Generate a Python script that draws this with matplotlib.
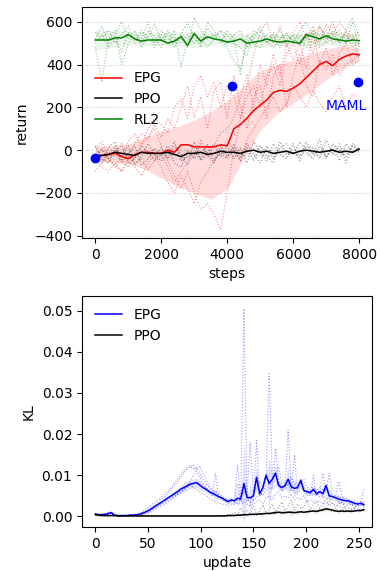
import numpy as np
import matplotlib.pyplot as plt

plt.rcParams['font.size'] = 10

# ---------- top panel: return vs steps ----------
steps = np.arange(0, 8001, 200)
band_steps = np.arange(0, 8001, 500)

epg_mean = [-30, -25, -20, -15, -30, -40, -20, -10, -10, -15,
            -15, 0, -10, 25, 25, 15, 15, 15, 15, 25,
            20, 100, 120, 150, 185, 210, 235, 270, 280, 275,
            290, 310, 340, 370, 400, 415, 395, 425, 440, 450,
            445]
ppo_mean = [-25, -25, -20, -10, -15, -20, -25, -10, -15, -15,
            -15, -10, -20, -30, -15, -15, -10, -20, -15, -5,
            -10, -10, -15, -5, 0, -10, -5, -15, -10, -5,
            -15, -5, 0, -5, -10, -5, 0, -10, -5, -10,
            5]
rl2_mean = [515, 515, 515, 525, 525, 540, 520, 510, 515, 515,
            515, 500, 510, 530, 490, 545, 510, 530, 520, 515,
            505, 510, 520, 500, 505, 510, 520, 510, 505, 510,
            505, 500, 540, 530, 520, 535, 520, 515, 510, 515,
            512]

epg_lo = [-50, -60, -60, -90, -130, -170, -200, -230, -180, -40, 90, 170, 220, 270, 330, 380, 420]
epg_hi = [20, 20, 30, 60, 90, 110, 140, 180, 230, 300, 370, 400, 420, 450, 470, 490, 480]
ppo_lo = [-50, -45, -45, -40, -45, -45, -40, -40, -35, -30, -30, -30, -25, -25, -25, -25, -20]
ppo_hi = [0, 5, 10, 10, 5, 10, 10, 10, 15, 15, 15, 10, 15, 15, 10, 15, 15]
rl2_lo = [470, 480, 490, 490, 490, 490, 480, 490, 490, 480, 480, 490, 490, 490, 490, 490, 490]
rl2_hi = [560, 560, 555, 550, 545, 550, 560, 550, 545, 545, 540, 540, 545, 550, 550, 550, 545]

epg_runs = [
    [-100, -60, -20, 20, -50, -80, -30, 30, 60, 100,
     20, -50, -120, -180, -100, -200, -280, -250, -300, -370,
     -200, 0, 150, 300, 450, 550, 600, 500, 580, 480,
     550, 600, 520, 580, 500, 590, 540, 600, 560, 520,
     560],
    [-20, 0, -40, -80, -20, 40, 80, 20, 100, 150,
     120, 80, 200, 240, 150, 300, 350, 250, 320, 200,
     300, 250, 150, 250, 300, 200, 350, 400, 300, 450,
     500, 400, 550, 450, 580, 520, 600, 500, 550, 480,
     500],
    [-40, -80, -100, -60, -100, -50, -80, -120, -60, -20,
     -80, -150, -200, -120, -180, -250, -150, -100, -50, 0,
     50, 0, -50, 50, 100, 150, 200, 250, 180, 220,
     300, 250, 200, 280, 220, 180, 250, 300, 200, 260,
     250],
    [10, 40, -30, 0, -60, -20, 30, 80, 50, 120,
     60, 150, 100, 200, 300, 150, 250, 100, 280, 320,
     150, 350, 200, 100, 250, 300, 150, 350, 400, 200,
     350, 450, 300, 250, 420, 380, 450, 350, 400, 420,
     450],
    [-60, -20, -40, -70, -100, -30, -60, -40, -90, -50,
     -20, -80, -150, -100, -60, -20, 50, -30, 20, 80,
     100, 150, 250, 350, 200, 400, 300, 450, 350, 500,
     420, 500, 380, 550, 400, 480, 350, 450, 500, 400,
     420],
]
ppo_runs = [
    [-30, -60, 10, 40, -50, -20, 20, -70, -40, 10,
     -30, 20, -60, -80, 0, -40, 30, -20, -60, 20,
     -30, 10, -50, 30, -20, -60, 20, -40, 10, 30,
     -20, 40, -10, -40, 20, -30, 10, -50, 30, -10,
     10],
    [-50, 10, -40, -20, 30, -60, -40, 20, -10, -50,
     10, -40, 20, -20, -70, 40, -50, -10, 30, -30,
     20, -40, 10, -60, 40, -10, -50, 30, -20, -40,
     30, -50, 20, 10, -40, 50, -20, 30, -60, 20,
     -10],
    [20, -40, -60, 10, -30, 20, -70, -30, 30, -20,
     -50, -20, 40, -50, -30, -10, -40, 30, -50, -10,
     -40, 30, -30, 10, -50, 20, -30, -60, 40, -20,
     -10, -30, 40, -20, 50, -40, 30, 0, -30, 30,
     0],
]
rl2_runs = [
    [520, 580, 500, 540, 600, 520, 560, 480, 530, 590,
     510, 550, 480, 540, 600, 520, 500, 570, 530, 560,
     500, 540, 560, 480, 520, 580, 500, 550, 520, 540,
     510, 560, 600, 530, 580, 520, 550, 500, 560, 620,
     530],
    [480, 320, 520, 560, 400, 500, 540, 520, 600, 480,
     540, 500, 560, 390, 520, 550, 480, 600, 560, 520,
     480, 420, 380, 500, 540, 560, 510, 480, 520, 550,
     500, 540, 520, 560, 480, 510, 560, 540, 500, 600,
     480],
    [550, 520, 560, 500, 540, 580, 500, 560, 520, 500,
     560, 520, 500, 540, 480, 620, 560, 520, 540, 500,
     560, 520, 350, 540, 500, 480, 540, 520, 560, 500,
     540, 520, 480, 560, 540, 500, 530, 560, 520, 540,
     430],
    [500, 540, 480, 520, 460, 550, 520, 500, 560, 530,
     480, 560, 520, 500, 540, 500, 530, 480, 520, 560,
     540, 500, 480, 440, 560, 530, 500, 540, 480, 520,
     530, 490, 540, 500, 520, 560, 500, 520, 540, 500,
     500],
]

maml_steps = [0, 4150, 7950]
maml_return = [-35, 300, 320]

# ---------- bottom panel: KL vs update (values in 1e-3) ----------
updates = np.arange(0, 256, 3)
kl_epg_mean = [0.6, 0.4, 0.4, 0.5, 0.7, 0.9, 0.3, 0.2, 0.2, 0.2,
               0.2, 0.3, 0.3, 0.4, 0.5, 0.8, 1.1, 1.5, 2.0, 2.5,
               3.0, 3.5, 4.0, 4.5, 5.0, 5.5, 6.0, 6.6, 7.0, 7.4,
               7.8, 8.0, 8.2, 7.6, 7.0, 6.6, 6.0, 5.6, 5.2, 4.8,
               4.5, 4.0, 3.6, 4.0, 3.8, 4.4, 4.2, 8.0, 4.6, 4.5,
               5.0, 9.5, 5.5, 7.0, 10.0, 8.0, 9.0, 10.5, 7.5, 7.0,
               7.5, 9.0, 7.2, 6.8, 7.0, 8.8, 6.2, 6.0, 5.8, 6.5,
               5.5, 6.0, 5.5, 7.5, 5.0, 4.8, 4.5, 4.2, 4.0, 3.8,
               3.8, 3.5, 3.2, 3.0, 3.2, 2.8]
kl_ppo_mean = [0.4, 0.3, 0.2, 0.2, 0.2, 0.2, 0.2, 0.1, 0.1, 0.1,
               0.1, 0.1, 0.1, 0.1, 0.1, 0.1, 0.1, 0.1, 0.1, 0.1,
               0.1, 0.1, 0.1, 0.1, 0.1, 0.1, 0.1, 0.1, 0.1, 0.1,
               0.1, 0.1, 0.1, 0.1, 0.1, 0.1, 0.1, 0.1, 0.1, 0.1,
               0.1, 0.1, 0.2, 0.2, 0.2, 0.3, 0.3, 0.4, 0.4, 0.5,
               0.5, 0.5, 0.6, 0.6, 0.7, 0.7, 0.8, 0.9, 1.0, 0.9,
               0.9, 1.0, 1.0, 0.9, 1.0, 1.1, 1.0, 1.1, 1.2, 1.3,
               1.2, 1.4, 1.6, 1.8, 1.7, 1.5, 1.3, 1.2, 1.3, 1.2,
               1.3, 1.2, 1.3, 1.4, 1.4, 1.6]
kl_epg_runs = [
    [0.5, 0.3, 0.3, 0.5, 0.6, 1.0, 0.3, 0.2, 0.1, 0.2,
     0.2, 0.3, 0.4, 0.6, 0.8, 1.2, 1.8, 2.4, 3.0, 3.6,
     4.2, 4.8, 5.5, 6.2, 7.0, 8.0, 9.0, 10.0, 11.0, 11.8,
     12.3, 11.5, 12.0, 10.5, 9.0, 8.0, 7.0, 6.2, 5.5, 4.8,
     4.2, 3.8, 3.2, 3.6, 3.5, 4.0, 3.8, 50.5, 4.0, 3.5,
     3.8, 4.5, 6.0, 5.0, 6.5, 7.0, 6.5, 7.5, 8.0, 6.0,
     6.5, 21.0, 6.8, 6.0, 5.5, 6.5, 7.0, 5.0, 5.5, 5.0,
     5.5, 4.8, 5.0, 4.5, 4.2, 4.0, 3.8, 3.5, 3.2, 3.0,
     3.0, 2.8, 2.5, 2.5, 2.8, 2.5],
    [0.6, 0.5, 0.4, 0.4, 0.5, 0.6, 0.2, 0.1, 0.1, 0.2,
     0.3, 0.3, 0.2, 0.3, 0.4, 0.5, 0.6, 0.9, 1.2, 1.6,
     2.0, 2.5, 3.0, 3.5, 4.0, 4.6, 5.2, 5.8, 6.5, 7.5,
     8.5, 10.0, 11.5, 12.2, 10.5, 9.0, 7.5, 6.5, 6.0, 5.5,
     5.0, 4.5, 4.0, 4.2, 4.5, 12.5, 4.5, 6.0, 5.0, 18.0,
     6.0, 7.0, 8.5, 7.0, 9.0, 34.7, 9.5, 10.0, 12.0, 8.0,
     8.5, 7.5, 9.5, 8.0, 7.5, 8.0, 9.0, 7.0, 6.5, 7.0,
     6.0, 7.0, 6.5, 6.0, 10.5, 5.5, 5.0, 4.8, 4.5, 4.5,
     4.2, 4.0, 3.8, 3.5, 3.5, 3.2],
    [0.4, 0.3, 0.5, 0.6, 0.8, 1.2, 0.4, 0.2, 0.1, 0.1,
     0.1, 0.2, 0.3, 0.4, 0.6, 0.9, 1.3, 1.8, 2.4, 3.0,
     3.6, 4.2, 4.8, 5.5, 6.5, 7.5, 8.5, 9.5, 10.5, 11.5,
     12.0, 12.5, 11.0, 9.5, 8.0, 7.0, 6.0, 5.0, 10.5, 4.5,
     4.0, 3.5, 3.0, 3.2, 3.0, 8.0, 3.5, 4.0, 3.8, 4.5,
     4.0, 18.5, 5.0, 6.0, 7.5, 8.0, 7.0, 16.5, 9.0, 6.5,
     7.0, 8.0, 6.0, 15.0, 6.0, 7.5, 6.5, 6.0, 5.0, 10.0,
     5.0, 6.0, 10.5, 5.5, 4.5, 5.0, 4.5, 8.5, 5.0, 4.0,
     3.5, 3.0, 3.0, 2.8, 3.0, 7.0],
    [0.5, 0.3, 0.3, 0.4, 0.6, 0.8, 0.3, 0.2, 0.2, 0.1,
     0.2, 0.2, 0.3, 0.3, 0.4, 0.6, 0.8, 1.2, 1.6, 2.0,
     2.5, 3.0, 3.5, 4.0, 4.5, 5.0, 5.5, 6.0, 6.5, 7.0,
     7.5, 7.0, 6.5, 6.0, 5.5, 5.0, 4.5, 4.0, 3.5, 3.2,
     3.0, 2.8, 2.5, 2.8, 3.0, 3.2, 3.0, 3.5, 3.0, 2.5,
     3.0, 3.5, 4.0, 3.0, 4.5, 5.0, 4.0, 5.5, 6.0, 4.5,
     5.0, 4.5, 5.5, 4.0, 4.5, 4.0, 5.0, 3.5, 4.0, 3.5,
     3.8, 3.5, 3.2, 3.0, 3.5, 3.0, 2.8, 2.5, 2.2, 2.0,
     2.0, 1.8, 1.8, 1.5, 1.8, 1.5],
]
kl_ppo_runs = [
    [0.3, 0.2, 0.1, 0.1, 0.1, 0.1, 0.1, 0.1, 0.0, 0.1,
     0.0, 0.1, 0.1, 0.0, 0.1, 0.1, 0.0, 0.1, 0.1, 0.0,
     0.1, 0.1, 0.0, 0.1, 0.1, 0.0, 0.1, 0.1, 0.1, 0.0,
     0.1, 0.1, 0.0, 0.1, 0.1, 0.1, 0.0, 0.1, 0.2, 0.1,
     0.2, 0.1, 0.5, 0.3, 1.0, 0.4, 2.0, 0.5, 1.5, 0.8,
     2.5, 0.6, 1.2, 2.8, 0.8, 1.5, 3.0, 1.0, 2.2, 3.5,
     1.2, 2.5, 4.0, 1.5, 3.0, 1.8, 2.5, 3.8, 1.5, 2.8,
     3.5, 2.0, 3.0, 4.2, 2.5, 3.2, 2.0, 3.0, 3.5, 2.2,
     2.8, 3.5, 2.0, 3.0, 2.5, 3.2],
    [0.2, 0.1, 0.1, 0.1, 0.0, 0.1, 0.0, 0.0, 0.1, 0.0,
     0.1, 0.0, 0.0, 0.1, 0.0, 0.0, 0.1, 0.0, 0.0, 0.1,
     0.0, 0.0, 0.1, 0.0, 0.0, 0.1, 0.0, 0.0, 0.0, 0.1,
     0.0, 0.0, 0.1, 0.0, 0.0, 0.0, 0.1, 0.0, 0.0, 0.1,
     0.0, 0.1, 0.0, 0.1, 0.2, 0.1, 0.3, 0.2, 0.4, 0.2,
     0.5, 0.3, 0.6, 0.4, 0.8, 0.5, 0.9, 0.6, 1.0, 0.7,
     0.8, 1.2, 0.6, 1.0, 0.8, 1.4, 0.9, 1.2, 1.5, 1.0,
     1.3, 1.8, 1.2, 2.0, 1.5, 1.2, 1.8, 1.0, 1.4, 1.6,
     1.2, 1.5, 1.8, 1.3, 1.6, 1.8],
]

fig, (ax1, ax2) = plt.subplots(2, 1, figsize=(3.8, 5.71), dpi=100)
fig.subplots_adjust(left=0.216, right=0.979, top=0.988, bottom=0.077, hspace=0.25)

series = [('EPG', 'r', epg_mean, epg_runs, epg_lo, epg_hi, 0.14),
          ('PPO', 'k', ppo_mean, ppo_runs, ppo_lo, ppo_hi, 0.12),
          ('RL2', 'g', rl2_mean, rl2_runs, rl2_lo, rl2_hi, 0.08)]
for name, col, mean, runs, lo, hi, a in series:
    shade = '#999999' if col == 'k' else col
    ax1.fill_between(band_steps, lo, hi, color=shade, alpha=a, lw=0)
    for run in runs:
        ax1.plot(steps, run, ':', color=col, lw=0.8, alpha=0.45)
for name, col, mean, runs, lo, hi, a in series:
    ax1.plot(steps, mean, color=col, lw=1.1, label=name)

ax1.plot(maml_steps, maml_return, 'o', color='b', ms=6)
ax1.text(7614, 207, 'MAML', color='b', ha='center', va='center')
ax1.set_xlim(-400, 8390)
ax1.set_ylim(-411, 670)
ax1.set_xticks([0, 2000, 4000, 6000, 8000])
ax1.set_yticks([-400, -200, 0, 200, 400, 600])
ax1.yaxis.grid(True, ls='--', color='#dddddd', lw=0.6)
ax1.set_axisbelow(True)
ax1.set_xlabel('steps')
ax1.set_ylabel('return')
ax1.legend(loc='upper left', bbox_to_anchor=(0.0, 0.775), frameon=False)

kl_epg_runs_arr = np.array(kl_epg_runs) * 1e-3
kl_ppo_runs_arr = np.array(kl_ppo_runs) * 1e-3
kl_epg = np.array(kl_epg_mean) * 1e-3
kl_ppo = np.array(kl_ppo_mean) * 1e-3
for runs, mean, col, shade in [(kl_epg_runs_arr, kl_epg, 'b', 'b'),
                               (kl_ppo_runs_arr, kl_ppo, 'k', '#999999')]:
    se = runs.std(axis=0) / np.sqrt(len(runs))
    ax2.fill_between(updates, mean - se, mean + se, color=shade, alpha=0.12, lw=0)
    for run in runs:
        ax2.plot(updates, run, ':', color=col, lw=0.8, alpha=0.4)
ax2.plot(updates, kl_epg, color='b', lw=1.1, label='EPG')
ax2.plot(updates, kl_ppo, color='k', lw=1.1, label='PPO')
ax2.set_xlim(-12.7, 262.7)
ax2.set_ylim(-0.0026, 0.0536)
ax2.set_xticks([0, 50, 100, 150, 200, 250])
ax2.set_yticks([0.0, 0.01, 0.02, 0.03, 0.04, 0.05])
ax2.set_yticklabels(['0.00', '0.01', '0.02', '0.03', '0.04', '0.05'])
ax2.set_xlabel('update')
ax2.set_ylabel('KL')
ax2.legend(loc='upper left', frameon=False)

fig.savefig('out.png', dpi=100)
